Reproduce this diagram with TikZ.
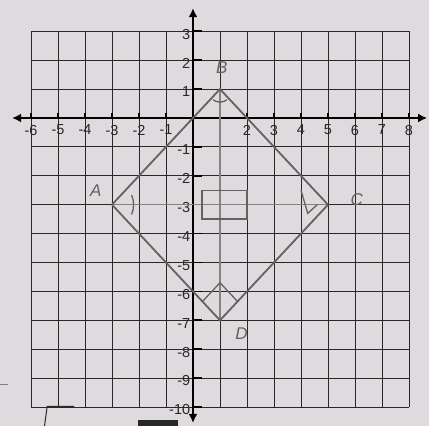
\documentclass[tikz,border=0pt]{standalone}
\usepackage{fontspec}
\setsansfont{Liberation Sans}
\usepackage{tikz}
\usetikzlibrary{arrows.meta, positioning, calc}
\definecolor{paper}{RGB}{222,218,222}
\definecolor{ink}{RGB}{40,40,40}
\definecolor{pencil}{RGB}{98,98,98}
\definecolor{pencillight}{RGB}{130,130,130}

\begin{document}
\begin{tikzpicture}[
  x=27pt, y=28.9pt,
  gridline/.style={draw=ink, line width=0.9pt},
  axisline/.style={draw=black, line width=2.2pt, -{Latex[length=9pt,width=9pt]}},
  tickmark/.style={draw=black, line width=1.6pt},
  xlbl/.style={font=\sffamily\fontsize{14.5}{14.5}\selectfont, text=ink, anchor=north, inner sep=1pt},
  ylbl/.style={font=\sffamily\fontsize{14.5}{14.5}\selectfont, text=ink, anchor=east, inner sep=1pt},
  side/.style={draw=pencil, line width=1.8pt, line join=round},
  diag/.style={draw=pencillight, line width=1.5pt},
  anglemark/.style={draw=pencil, line width=1.3pt},
  vlbl/.style={font=\sffamily\fontsize{17}{17}\selectfont\itshape, text=pencil, inner sep=0pt},
]
  % paper and frame
  \fill[paper] (-7.148,4.083) rectangle (8.741,-10.657);
  \useasboundingbox (-7.148,4.083) rectangle (8.741,-10.657);

  % grid
  \foreach \x in {-6,...,8}
    \draw[gridline] (\x,3) -- (\x,-10);
  \foreach \y in {3,...,-10}
    \draw[gridline] (-6,\y) -- (8,\y);

  % axes
  \coordinate (O) at (0,0);
  \coordinate (xl) at (-6.7,0);
  \coordinate (xr) at (8.67,0);
  \coordinate (yt) at (0,3.8);
  \coordinate (yb) at (0,-10.55);
  \draw[axisline] (O) -- (xl);
  \draw[axisline] (O) -- (xr);
  \draw[axisline] (O) -- (yt);
  \draw[axisline] (O) -- (yb);
  \foreach \x in {-6,...,-1,1,2,...,8}
    \draw[tickmark] (\x,0) -- (\x,0.18);
  \foreach \y in {3,...,-10}
    \draw[tickmark] (0,\y) -- (0.33,\y);

  % axis numbers
  \foreach \x in {-6,...,-1,2,3,...,8}
    \node[xlbl] (nx\x) at (\x,-0.2) {\x};
  \foreach \y in {3,2,1,-1,-2,...,-10}
    \node[ylbl] (ny\y) at (-0.06,\y-0.1) {\y};

  % square ABCD
  \coordinate (A) at (-3,-3);
  \coordinate (B) at (1,1);
  \coordinate (C) at (5,-3);
  \coordinate (D) at (1,-7);
  \draw[diag] (A) -- (C);
  \draw[diag] (B) -- (D);
  \draw[side] (A) -- (B) -- (C) -- (D) -- cycle;

  % angle marks
  \draw[anglemark] (0.33,-2.5) rectangle (2.0,-3.5);
  \draw[anglemark] ($(D)+(-0.65,0.65)$) -- ($(D)+(0,1.3)$) -- ($(D)+(0.65,0.65)$);
  \draw[anglemark] ([shift={(-25:0.8)}]A) arc (-25:25:0.8);
  \draw[anglemark] (4.0,-2.5) -- (4.25,-3.3) -- (4.6,-3.0);
  \draw[anglemark] ([shift={(235:0.45)}]B) arc (235:305:0.45);

  % vertex letters
  \node[vlbl] (lA) at (-3.6,-2.5) {A};
  \node[vlbl] (lB) at (1.07,1.73) {B};
  \node[vlbl] (lC) at (6.07,-2.84) {C};
  \node[vlbl] (lD) at (1.8,-7.45) {D};

  % bits of the page cut off by the photo
  \draw[pencillight, line width=1.5pt] (-7.148,-9.22) -- (-6.85,-9.22);
  \draw[ink, line width=1pt] (-5.5,-10.657) -- (-5.4,-9.98) -- (-4.4,-9.98);
  \fill[ink] (-2.05,-10.45) rectangle (-0.55,-10.657);
\end{tikzpicture}
\end{document}
